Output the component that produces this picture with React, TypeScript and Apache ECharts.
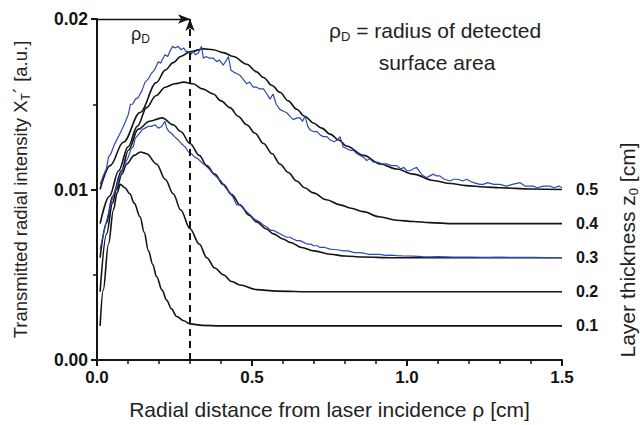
import React, { useEffect, useRef } from "react";
import * as echarts from "echarts";

const FONT = '"Liberation Sans", Arial, Helvetica, sans-serif';
const INK = "#141414";
const BLUE = "#3049b2";

// Layer thickness labels (cm)
const layerLabels = ["0.1", "0.2", "0.3", "0.4", "0.5"];

// Model curves (black)
const x01 = [0.01, 0.02, 0.037, 0.053, 0.065, 0.075, 0.09, 0.106, 0.12, 0.139, 0.152, 0.166, 0.18, 0.192, 0.21, 0.225, 0.24, 0.257, 0.28, 0.3, 0.34, 0.4, 0.6, 1.0, 1.5];
const y01 = [0.002, 0.0041, 0.0068, 0.0088, 0.0098, 0.0103, 0.0101, 0.00975, 0.0092, 0.0084, 0.0075, 0.0064, 0.0056, 0.0049, 0.0041, 0.0035, 0.003, 0.00255, 0.0023, 0.00212, 0.00203, 0.002, 0.002, 0.002, 0.002];

const x02 = [0.01, 0.031, 0.05, 0.063, 0.08, 0.096, 0.12, 0.14, 0.16, 0.192, 0.22, 0.246, 0.27, 0.3, 0.33, 0.354, 0.38, 0.407, 0.435, 0.461, 0.515, 0.58, 0.7, 1.0, 1.5];
const y02 = [0.004, 0.0074, 0.0092, 0.01, 0.0109, 0.0115, 0.012, 0.0122, 0.0121, 0.0115, 0.0106, 0.00975, 0.0088, 0.0077, 0.0068, 0.006, 0.0054, 0.005, 0.0046, 0.0044, 0.00413, 0.00404, 0.004, 0.004, 0.004];

const x03 = [0.01, 0.03, 0.05, 0.079, 0.101, 0.133, 0.17, 0.21, 0.246, 0.27, 0.3, 0.33, 0.354, 0.38, 0.407, 0.435, 0.461, 0.49, 0.515, 0.545, 0.569, 0.6, 0.623, 0.66, 0.7, 0.752, 0.8, 0.86, 0.95, 1.2, 1.5];
const y03 = [0.006, 0.008, 0.0096, 0.0111, 0.0123, 0.01354, 0.014, 0.0142, 0.0138, 0.0134, 0.0127, 0.012, 0.0114, 0.0109, 0.0103, 0.0097, 0.0091, 0.0085, 0.0081, 0.0077, 0.0074, 0.0071, 0.0069, 0.0066, 0.0064, 0.0062, 0.0061, 0.00604, 0.006, 0.006, 0.006];

const x04 = [0.01, 0.04, 0.07, 0.1, 0.13, 0.16, 0.19, 0.22, 0.25, 0.28, 0.31, 0.34, 0.375, 0.4, 0.429, 0.455, 0.483, 0.51, 0.537, 0.565, 0.59, 0.617, 0.644, 0.67, 0.698, 0.74, 0.784, 0.82, 0.859, 0.91, 0.967, 1.02, 1.074, 1.15, 1.5];
const y04 = [0.008, 0.0096, 0.0111, 0.0125, 0.0137, 0.0148, 0.0155, 0.016, 0.0162, 0.0163, 0.0162, 0.0159, 0.0156, 0.0152, 0.0148, 0.0143, 0.0138, 0.0133, 0.0127, 0.0121, 0.0115, 0.011, 0.0105, 0.0101, 0.0098, 0.0094, 0.0091, 0.0089, 0.0087, 0.0084, 0.0082, 0.00812, 0.00806, 0.008, 0.008];

const x05 = [0.01, 0.042, 0.085, 0.139, 0.192, 0.22, 0.246, 0.27, 0.3, 0.343, 0.375, 0.407, 0.44, 0.483, 0.515, 0.537, 0.565, 0.59, 0.617, 0.644, 0.67, 0.698, 0.725, 0.752, 0.78, 0.805, 0.86, 0.913, 0.967, 1.02, 1.085, 1.14, 1.19, 1.25, 1.3, 1.4, 1.5];
const y05 = [0.01, 0.0114, 0.01277, 0.01452, 0.01628, 0.017, 0.01744, 0.0178, 0.01807, 0.01825, 0.0182, 0.01803, 0.0178, 0.01735, 0.0169, 0.01657, 0.0161, 0.0157, 0.0152, 0.01471, 0.0143, 0.0139, 0.0136, 0.01325, 0.0129, 0.01255, 0.012, 0.0115, 0.0112, 0.0109, 0.01053, 0.01035, 0.01023, 0.01015, 0.0101, 0.01003, 0.01];

// Measured data (blue), z0 = 0.5 cm
const xm05 = [0.01, 0.02, 0.03, 0.037, 0.045, 0.055, 0.069, 0.08, 0.09, 0.101, 0.108, 0.115, 0.124, 0.133, 0.145, 0.155, 0.166, 0.175, 0.185, 0.198, 0.205, 0.213, 0.219, 0.228, 0.235, 0.244, 0.252, 0.262, 0.27, 0.28, 0.287, 0.295, 0.302, 0.31, 0.318, 0.327, 0.337, 0.343, 0.352, 0.362, 0.375, 0.386, 0.395, 0.407, 0.415, 0.424, 0.432, 0.44, 0.45, 0.461, 0.47, 0.483, 0.492, 0.504, 0.515, 0.525, 0.537, 0.548, 0.558, 0.568, 0.578, 0.59, 0.6, 0.612, 0.622, 0.633, 0.645, 0.655, 0.663, 0.671, 0.68, 0.687, 0.698, 0.71, 0.72, 0.73, 0.742, 0.752, 0.765, 0.775, 0.784, 0.794, 0.805, 0.816, 0.827, 0.838, 0.849, 0.859, 0.87, 0.88, 0.892, 0.905, 0.92, 0.934, 0.95, 0.967, 0.98, 0.99, 0.999, 1.01, 1.02, 1.031, 1.042, 1.052, 1.063, 1.074, 1.085, 1.095, 1.106, 1.12, 1.139, 1.15, 1.165, 1.18, 1.192, 1.203, 1.215, 1.235, 1.246, 1.26, 1.28, 1.3, 1.32, 1.34, 1.365, 1.38, 1.395, 1.407, 1.42, 1.44, 1.461, 1.475, 1.49, 1.5];
const ym05 = [0.0103, 0.0108, 0.0112, 0.0119, 0.0121, 0.0126, 0.0131, 0.0135, 0.0139, 0.0144, 0.015, 0.015, 0.0153, 0.0154, 0.0158, 0.0163, 0.0165, 0.0168, 0.017, 0.0175, 0.0174, 0.0177, 0.0179, 0.0178, 0.0181, 0.0184, 0.0183, 0.0184, 0.0182, 0.0183, 0.0181, 0.0181, 0.0179, 0.0181, 0.0179, 0.018, 0.0184, 0.0177, 0.0178, 0.0177, 0.0177, 0.0175, 0.0176, 0.0173, 0.0175, 0.0178, 0.017, 0.0169, 0.0168, 0.0167, 0.0165, 0.0162, 0.0163, 0.016, 0.016, 0.0159, 0.0159, 0.0156, 0.0153, 0.0156, 0.015, 0.0147, 0.0146, 0.0145, 0.0143, 0.0141, 0.0142, 0.0142, 0.014, 0.0143, 0.0137, 0.0135, 0.0134, 0.0134, 0.0132, 0.0131, 0.0131, 0.0129, 0.0128, 0.0129, 0.0131, 0.0125, 0.0124, 0.0123, 0.0123, 0.0121, 0.012, 0.0119, 0.0117, 0.0118, 0.0116, 0.0116, 0.0115, 0.0115, 0.0114, 0.0114, 0.0112, 0.0113, 0.0111, 0.0111, 0.0112, 0.0113, 0.011, 0.0108, 0.0107, 0.0108, 0.0109, 0.0108, 0.0108, 0.0106, 0.0105, 0.0106, 0.0106, 0.0105, 0.0106, 0.0105, 0.0104, 0.0103, 0.0103, 0.0104, 0.0103, 0.0103, 0.0102, 0.0103, 0.0104, 0.0102, 0.0102, 0.0102, 0.0101, 0.0102, 0.0102, 0.0101, 0.0102, 0.0101];

// Measured data (blue), z0 = 0.3 cm
const xm03 = [0.01, 0.02, 0.03, 0.04, 0.05, 0.06, 0.07, 0.08, 0.09, 0.101, 0.11, 0.117, 0.123, 0.133, 0.145, 0.155, 0.165, 0.175, 0.187, 0.198, 0.209, 0.219, 0.225, 0.232, 0.24, 0.25, 0.262, 0.272, 0.284, 0.295, 0.305, 0.315, 0.326, 0.337, 0.35, 0.362, 0.375, 0.388, 0.4, 0.415, 0.429, 0.44, 0.45, 0.46, 0.472, 0.483, 0.495, 0.505, 0.515, 0.525, 0.537, 0.548, 0.56, 0.57, 0.58, 0.59, 0.6, 0.612, 0.623, 0.633, 0.644, 0.655, 0.667, 0.678, 0.69, 0.698, 0.71, 0.72, 0.735, 0.752, 0.765, 0.78, 0.795, 0.81, 0.83, 0.845, 0.859, 0.875, 0.89, 0.913, 0.93, 0.95, 0.967, 0.99, 1.02, 1.05, 1.074, 1.1, 1.15, 1.2, 1.25, 1.3, 1.35, 1.4, 1.45, 1.5];
const ym03 = [0.0065, 0.0073, 0.0081, 0.0088, 0.0095, 0.01, 0.0106, 0.011, 0.0115, 0.0119, 0.0124, 0.0125, 0.013, 0.0132, 0.0135, 0.0136, 0.0137, 0.0137, 0.0138, 0.0136, 0.0137, 0.014, 0.0136, 0.0134, 0.0133, 0.0131, 0.0129, 0.0127, 0.0125, 0.0122, 0.0121, 0.0119, 0.0118, 0.0116, 0.0114, 0.0112, 0.0109, 0.0107, 0.0105, 0.0101, 0.0098, 0.0095, 0.0091, 0.0091, 0.0089, 0.0087, 0.0085, 0.0083, 0.0082, 0.0081, 0.0079, 0.0078, 0.0076, 0.0076, 0.0075, 0.0074, 0.0073, 0.0072, 0.0072, 0.0071, 0.007, 0.007, 0.0069, 0.0068, 0.0068, 0.0067, 0.0067, 0.0066, 0.0066, 0.0065, 0.00648, 0.00645, 0.0064, 0.0064, 0.0063, 0.0063, 0.00627, 0.0062, 0.0062, 0.0062, 0.00614, 0.00615, 0.00612, 0.0061, 0.00609, 0.00606, 0.00605, 0.00606, 0.00603, 0.00604, 0.00602, 0.00603, 0.00602, 0.00602, 0.00601, 0.00601];

const rhoD = 0.3;
const yTop = 0.02;

const zip = (xs: number[], ys: number[]) => xs.map((x, i) => [x, ys[i]]);

const SUB = (size: number) => ({ fontSize: size, lineHeight: size, verticalAlign: "bottom", fill: "#222", color: "#222" });

export default function App() {
  const ref = useRef<HTMLDivElement>(null);
  useEffect(() => {
    if (!ref.current) return;
    const chart = echarts.init(ref.current, undefined, { renderer: "svg" });
    const model = [
      [x01, y01],
      [x02, y02],
      [x03, y03],
      [x04, y04],
      [x05, y05],
    ];
    const blackSeries = model.map(([xs, ys], i) => ({
      type: "line",
      data: zip(xs, ys),
      showSymbol: false,
      smooth: 0.35,
      smoothMonotone: "x",
      lineStyle: { color: INK, width: 1.6 },
      z: 2,
      endLabel: {
        show: true,
        formatter: () => layerLabels[i],
        color: INK,
        fontFamily: FONT,
        fontWeight: "bold",
        fontSize: 16,
        distance: 14,
      },
      markLine:
        i === 0
          ? {
              silent: true,
              animation: false,
              label: { show: false },
              data: [
                {
                  xAxis: rhoD,
                  symbol: "none",
                  lineStyle: { color: INK, width: 2, type: [7, 5] },
                },
                [
                  { coord: [0, yTop], symbol: "none" },
                  { coord: [rhoD, yTop], symbol: "arrow" },
                ],
              ],
              symbolSize: [7, 12],
              lineStyle: { color: INK, width: 1.3, type: "solid" },
            }
          : undefined,
    }));
    const blueSeries = [
      [xm05, ym05],
      [xm03, ym03],
    ].map(([xs, ys]) => ({
      type: "line",
      data: zip(xs, ys),
      showSymbol: false,
      lineStyle: { color: BLUE, width: 1.2 },
      z: 3,
    }));

    chart.setOption({
      animation: false,
      textStyle: { fontFamily: FONT },
      grid: { left: 97, right: 78, top: 19, bottom: 65, containLabel: false, outerBoundsMode: "none" },
      xAxis: {
        type: "value",
        min: 0,
        max: 1.5,
        interval: 0.5,
        name: "Radial distance from laser incidence ρ [cm]",
        nameLocation: "middle",
        nameGap: 39,
        nameTextStyle: { fontSize: 21, color: "#222", fontFamily: FONT },
        axisLine: { show: true, lineStyle: { color: INK, width: 2 } },
        axisTick: { show: true, length: 6, lineStyle: { color: INK, width: 2 } },
        minorTick: { show: true, splitNumber: 5, length: 4, lineStyle: { color: INK, width: 1.5 } },
        axisLabel: {
          formatter: (v: number) => v.toFixed(1),
          fontSize: 17,
          fontWeight: "bold",
          color: INK,
          margin: 9,
          fontFamily: FONT,
        },
        splitLine: { show: false },
      },
      yAxis: {
        type: "value",
        min: 0,
        max: yTop,
        interval: 0.01,
        name: "Transmitted radial intensity X{sub|T}´ [a.u.]",
        nameLocation: "middle",
        nameGap: 65,
        nameRotate: 90,
        nameTextStyle: {
          fontSize: 18.5,
          color: "#222",
          fontFamily: FONT,
          lineHeight: 24,
          rich: { sub: SUB(12) },
        },
        axisLine: { show: true, lineStyle: { color: INK, width: 2 } },
        axisTick: { show: true, length: 6, lineStyle: { color: INK, width: 2 } },
        minorTick: { show: true, splitNumber: 2, length: 4, lineStyle: { color: INK, width: 1.5 } },
        axisLabel: {
          formatter: (v: number) => v.toFixed(2),
          fontSize: 17.5,
          fontWeight: "bold",
          color: INK,
          margin: 9,
          fontFamily: FONT,
        },
        splitLine: { show: false },
      },
      graphic: [
        {
          type: "text",
          x: 131,
          y: 34,
          style: {
            text: "ρ{sub|D}",
            fontSize: 18,
            fontFamily: FONT,
            fill: "#222",
            lineHeight: 22,
            verticalAlign: "middle",
            rich: { sub: SUB(12) },
          },
        },
        {
          type: "text",
          x: 329,
          y: 30,
          style: {
            text: "ρ{sub|D} = radius of detected",
            fontSize: 21,
            fontFamily: FONT,
            fill: "#222",
            lineHeight: 26,
            verticalAlign: "middle",
            rich: { sub: SUB(13) },
          },
        },
        {
          type: "text",
          x: 437,
          y: 62,
          style: {
            text: "surface area",
            fontSize: 21,
            fontFamily: FONT,
            fill: "#222",
            align: "center",
            verticalAlign: "middle",
          },
        },
        {
          type: "text",
          x: 627,
          y: 250,
          rotation: Math.PI / 2,
          style: {
            text: "Layer thickness z{sub|0} [cm]",
            fontSize: 21,
            fontFamily: FONT,
            fill: "#222",
            align: "center",
            verticalAlign: "middle",
            lineHeight: 26,
            rich: { sub: SUB(13) },
          },
        },
      ],
      series: [...blackSeries, ...blueSeries],
    });
    return () => chart.dispose();
  }, []);
  return (
    <div
      ref={ref}
      style={{ position: "absolute", left: 0, top: 0, width: 640, height: 425, background: "#fff" }}
    />
  );
}
